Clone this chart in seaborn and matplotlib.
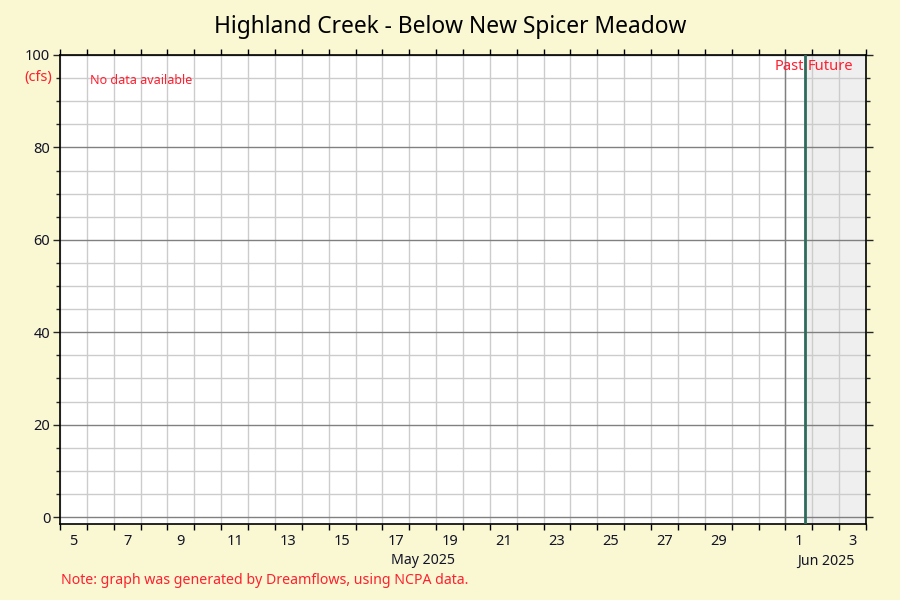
import matplotlib
matplotlib.use('Agg')
import matplotlib.pyplot as plt
import matplotlib.dates as mdates
import matplotlib.transforms as mtransforms
from matplotlib.ticker import MultipleLocator, FixedLocator, NullFormatter
import seaborn as sns
import pandas as pd

station = 'Highland Creek - Below New Spicer Meadow'
units = '(cfs)'
note = 'Note: graph was generated by Dreamflows, using NCPA data.'
no_data = 'No data available'

# no flow readings were reported for this period
flow_dates = []
flow_cfs = []

start_date = '2025-05-05'
end_date = '2025-06-04'
now_time = '2025-06-01 17:45'
month_starts = ['2025-05-01', '2025-06-01']
label_days = ['2025-05-05', '2025-05-07', '2025-05-09', '2025-05-11', '2025-05-13',
              '2025-05-15', '2025-05-17', '2025-05-19', '2025-05-21', '2025-05-23',
              '2025-05-25', '2025-05-27', '2025-05-29', '2025-06-01', '2025-06-03']
y_max = 100
y_min = -1.5

bg = '#f9f8d2'
red = '#ff2030'
ink = '#141428'

sns.set_style('white')
plt.rcParams['font.family'] = ['Noto Sans', 'DejaVu Sans']

fig = plt.figure(figsize=(9, 6), dpi=100, facecolor=bg)
ax = fig.add_axes([60 / 900, 1 - 524 / 600, 806 / 900, 469 / 600])
ax.set_facecolor('white')

sns.lineplot(x=flow_dates, y=flow_cfs, ax=ax)

x0 = mdates.date2num(pd.Timestamp(start_date))
x1 = mdates.date2num(pd.Timestamp(end_date))
now = mdates.date2num(pd.Timestamp(now_time))
ax.set_xlim(x0, x1)
ax.set_ylim(y_min, y_max)

# future region + current time marker
ax.axvspan(now, x1, color='#efefef', zorder=0.5)

# day boundaries as major ticks, labels at noon as minor ticks
days = mdates.date2num(pd.date_range(start_date, end_date, freq='D'))
ax.xaxis.set_major_locator(FixedLocator(days))
ax.xaxis.set_major_formatter(NullFormatter())
noons = mdates.date2num(pd.to_datetime(label_days)) + 0.5
ax.xaxis.set_minor_locator(FixedLocator(noons))
ax.set_xticklabels([str(pd.Timestamp(d).day) for d in label_days], minor=True)

ax.yaxis.set_major_locator(MultipleLocator(20))
ax.yaxis.set_minor_locator(MultipleLocator(5))

ax.grid(True, axis='x', which='major', color='#cccccc', lw=1, zorder=0.6)
ax.grid(True, axis='y', which='minor', color='#cccccc', lw=1, zorder=0.6)
ax.grid(True, axis='y', which='major', color='#808080', lw=1, zorder=0.7)
ax.set_axisbelow(True)

for m in month_starts[1:]:
    ax.axvline(mdates.date2num(pd.Timestamp(m)), color='#808080', lw=1, zorder=0.7)
ax.axvline(now, color='#2e6b5a', lw=2, zorder=3)

ax.tick_params(axis='x', which='major', direction='out', length=4, width=1,
               top=True, bottom=True, color='black')
ax.tick_params(axis='x', which='minor', length=0, pad=7, labelsize=10.5, labelcolor=ink)
ax.tick_params(axis='y', which='major', direction='out', length=5, width=1,
               left=True, right=True, pad=2, labelsize=10.5, labelcolor=ink)
ax.tick_params(axis='y', which='minor', direction='out', length=3, width=1,
               left=True, right=True)

for s in ax.spines.values():
    s.set_color('black')
    s.set_linewidth(1.2)

# month labels centred under the visible part of each month
axis_tr = mtransforms.blended_transform_factory(ax.transData, fig.transFigure)
for i, m in enumerate(month_starts):
    ms = mdates.date2num(pd.Timestamp(m))
    me = mdates.date2num(pd.Timestamp(month_starts[i + 1])) if i + 1 < len(month_starts) else x1
    mid = (max(ms, x0) + min(me, x1)) / 2
    ax.text(mid, 1 - 561 / 600, pd.Timestamp(m).strftime('%b %Y'), transform=axis_tr,
            ha='center', va='center', fontsize=10.2, color=ink)

top_tr = mtransforms.blended_transform_factory(ax.transData, fig.transFigure)
ax.text(now, 1 - 67 / 600, 'Past', transform=mtransforms.offset_copy(top_tr, fig=fig, x=-1, units='dots'),
        ha='right', va='center', fontsize=10.6, color=red)
ax.text(now, 1 - 67 / 600, 'Future', transform=mtransforms.offset_copy(top_tr, fig=fig, x=2, units='dots'),
        ha='left', va='center', fontsize=10.6, color=red)

fig.text(90 / 900, 1 - 80 / 600, no_data, ha='left', va='center', fontsize=9, color=red)
fig.text(52 / 900, 1 - 77 / 600, units, ha='right', va='center', fontsize=10.5, color=red)
fig.text(0.5, 1 - 27 / 600, station, ha='center', va='center', fontsize=16.4, color='black')
fig.text(61 / 900, 1 - 581 / 600, note, ha='left', va='center', fontsize=10.2, color=red)

fig.savefig('out.png', dpi=100, facecolor=bg)
